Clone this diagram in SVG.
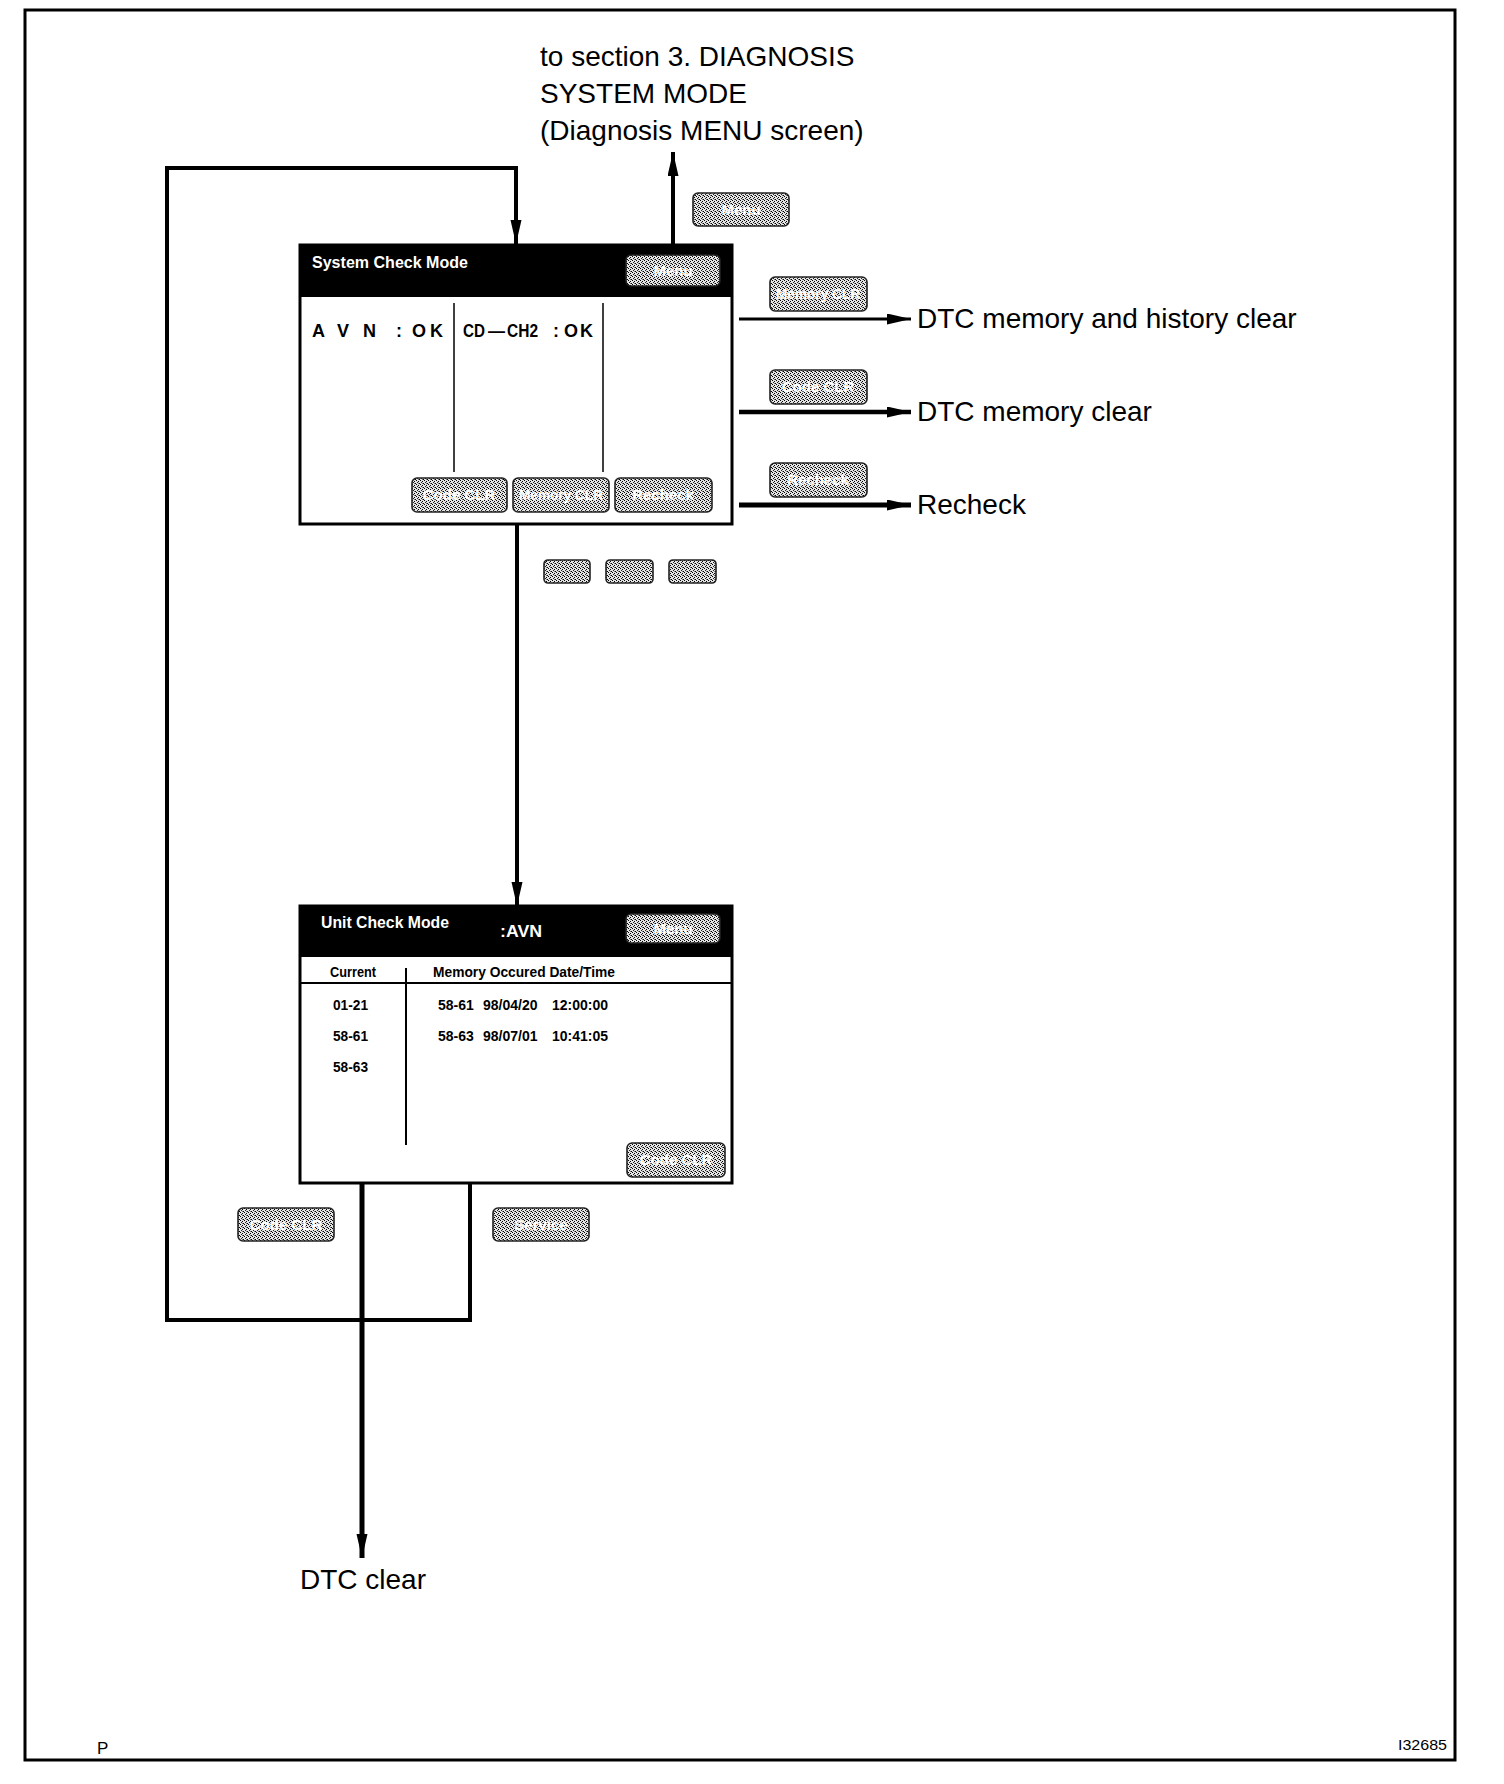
<svg xmlns="http://www.w3.org/2000/svg" width="1504" height="1784" viewBox="0 0 1504 1784">
<style>
.lbl{font-family:"Liberation Sans",Arial,sans-serif;fill:#000}
.big{font-size:28px}
.scr{font-family:"Liberation Sans",Arial,sans-serif;font-weight:bold}
.hdr{fill:#fff;font-size:17px}
.cell{fill:#000;font-size:14px}
.btn{fill:url(#dither);stroke:#222;stroke-width:1.6}
.btxt{font-family:"Liberation Sans",Arial,sans-serif;font-size:15px;font-weight:bold;fill:#fff;text-anchor:middle}
.screen{fill:#fff;stroke:#000;stroke-width:3}
.head{fill:#000}
.conn{fill:none;stroke:#000;stroke-linejoin:miter}
</style>
<defs>
<pattern id="dither" width="4" height="4" patternUnits="userSpaceOnUse">
<rect width="4" height="4" fill="#e4e4e4"/>
<rect x="0" y="0" width="1" height="1" fill="#000"/>
<rect x="2" y="1" width="1" height="1" fill="#000"/>
<rect x="1" y="2" width="1" height="1" fill="#222"/>
<rect x="3" y="3" width="1" height="1" fill="#000"/>
<rect x="2" y="3" width="1" height="1" fill="#777"/>
</pattern>
<marker id="arr" markerUnits="userSpaceOnUse" markerWidth="26" markerHeight="12" refX="24" refY="5.5" orient="auto">
<path d="M0,0 L24,5.5 L0,11 z" fill="#000"/>
</marker>
</defs>

<rect id="frame" x="25" y="10" width="1430" height="1750" fill="#fff" stroke="#000" stroke-width="3"/>

<g id="connectors">
<path class="conn" stroke-width="4" d="M470,1183 V1320 H167 V168 H516 V244" marker-end="url(#arr)"/>
<path class="conn" stroke-width="4" d="M517,524 V906" marker-end="url(#arr)"/>
<path class="conn" stroke-width="4" d="M673,244 V152" marker-end="url(#arr)"/>
<path class="conn" stroke-width="3" d="M739,319 H911" marker-end="url(#arr)"/>
<path class="conn" stroke-width="4.5" d="M739,412 H911" marker-end="url(#arr)"/>
<path class="conn" stroke-width="5" d="M739,505 H911" marker-end="url(#arr)"/>
<path class="conn" stroke-width="5" d="M362,1183 V1558" marker-end="url(#arr)"/>
</g>

<g id="system-check-mode">
<rect class="screen" x="300" y="245" width="432" height="279"/>
<rect class="head" x="300" y="245" width="432" height="52"/>
<text class="scr hdr" x="312" y="268" textLength="156" lengthAdjust="spacingAndGlyphs">System Check Mode</text>
<rect class="btn" x="626" y="255" width="94" height="31" rx="5"/>
<text class="btxt" x="673" y="276">Menu</text>
<line x1="454" y1="303" x2="454" y2="472" stroke="#000" stroke-width="1.5"/>
<line x1="603" y1="303" x2="603" y2="472" stroke="#000" stroke-width="1.5"/>
<text class="scr" font-size="18" x="312 326 337 351 363 380 396 403 412 425 430" y="337">A V N : O K</text>
<text class="scr" font-size="18" y="337"><tspan x="463" textLength="22" lengthAdjust="spacingAndGlyphs">CD</tspan><tspan x="488" textLength="17" lengthAdjust="spacingAndGlyphs">—</tspan><tspan x="507" textLength="31" lengthAdjust="spacingAndGlyphs">CH2</tspan><tspan x="553">:</tspan><tspan x="564">O</tspan><tspan x="580">K</tspan></text>
<rect class="btn" x="412" y="478" width="95" height="34" rx="5"/>
<text class="btxt" x="459" y="500">Code CLR</text>
<rect class="btn" x="513" y="478" width="96" height="34" rx="5"/>
<text class="btxt" x="561" y="500" textLength="84" lengthAdjust="spacingAndGlyphs">Memory CLR</text>
<rect class="btn" x="615" y="478" width="97" height="34" rx="5"/>
<text class="btxt" x="663" y="500">Recheck</text>
</g>

<g id="menu-btn-top">
<rect class="btn" x="693" y="193" width="96" height="33" rx="5"/>
<text class="btxt" x="741" y="215">Menu</text>
</g>
<g id="to-section-3">
<text class="lbl big" x="540" y="66">to section 3. DIAGNOSIS</text>
<text class="lbl big" x="540" y="103">SYSTEM MODE</text>
<text class="lbl big" x="540" y="140">(Diagnosis MENU screen)</text>
</g>

<g id="memory-history-clear">
<rect class="btn" x="770" y="277" width="97" height="34" rx="5"/>
<text class="btxt" x="818" y="299" textLength="84" lengthAdjust="spacingAndGlyphs">Memory CLR</text>
<text class="lbl big" x="917" y="328">DTC memory and history clear</text>
</g>
<g id="memory-clear">
<rect class="btn" x="770" y="370" width="97" height="34" rx="5"/>
<text class="btxt" x="818" y="392">Code CLR</text>
<text class="lbl big" x="917" y="421">DTC memory clear</text>
</g>
<g id="recheck">
<rect class="btn" x="770" y="463" width="97" height="34" rx="5"/>
<text class="btxt" x="818" y="485">Recheck</text>
<text class="lbl big" x="917" y="514">Recheck</text>
</g>

<g id="small-buttons">
<rect class="btn" x="544" y="560" width="46" height="23" rx="4"/>
<rect class="btn" x="606" y="560" width="47" height="23" rx="4"/>
<rect class="btn" x="669" y="560" width="47" height="23" rx="4"/>
</g>

<g id="unit-check-mode">
<rect class="screen" x="300" y="906" width="432" height="277"/>
<rect class="head" x="300" y="906" width="432" height="51"/>
<text class="scr hdr" x="321" y="928" textLength="128" lengthAdjust="spacingAndGlyphs">Unit Check Mode</text>
<text class="scr hdr" font-size="18" x="500" y="937" textLength="42" lengthAdjust="spacingAndGlyphs">:AVN</text>
<rect class="btn" x="626" y="914" width="94" height="29" rx="5"/>
<text class="btxt" x="673" y="934">Menu</text>
<line x1="300" y1="983" x2="732" y2="983" stroke="#000" stroke-width="2"/>
<line x1="406" y1="968" x2="406" y2="1145" stroke="#000" stroke-width="2"/>
<text class="scr cell" x="330" y="977" textLength="46" lengthAdjust="spacingAndGlyphs">Current</text>
<text class="scr cell" x="433" y="977" textLength="182" lengthAdjust="spacingAndGlyphs">Memory Occured Date/Time</text>
<text class="scr cell" x="333" y="1010" textLength="35" lengthAdjust="spacingAndGlyphs">01-21</text>
<text class="scr cell" x="333" y="1041" textLength="35" lengthAdjust="spacingAndGlyphs">58-61</text>
<text class="scr cell" x="333" y="1072" textLength="35" lengthAdjust="spacingAndGlyphs">58-63</text>
<text class="scr cell" y="1010"><tspan x="438">58-61</tspan><tspan x="483">98/04/20</tspan><tspan x="552">12:00:00</tspan></text>
<text class="scr cell" y="1041"><tspan x="438">58-63</tspan><tspan x="483">98/07/01</tspan><tspan x="552">10:41:05</tspan></text>
<rect class="btn" x="627" y="1143" width="98" height="34" rx="5"/>
<text class="btxt" x="676" y="1165">Code CLR</text>
</g>

<g id="loop-buttons">
<rect class="btn" x="238" y="1208" width="96" height="33" rx="5"/>
<text class="btxt" x="286" y="1230">Code CLR</text>
<rect class="btn" x="493" y="1208" width="96" height="33" rx="5"/>
<text class="btxt" x="541" y="1230">Service</text>
</g>

<g id="dtc-clear">
<text class="lbl big" x="300" y="1589">DTC clear</text>
</g>

<text class="lbl" x="97" y="1754" font-size="17">P</text>
<text class="lbl" x="1398" y="1750" font-size="15" textLength="49" lengthAdjust="spacingAndGlyphs">I32685</text>
</svg>
